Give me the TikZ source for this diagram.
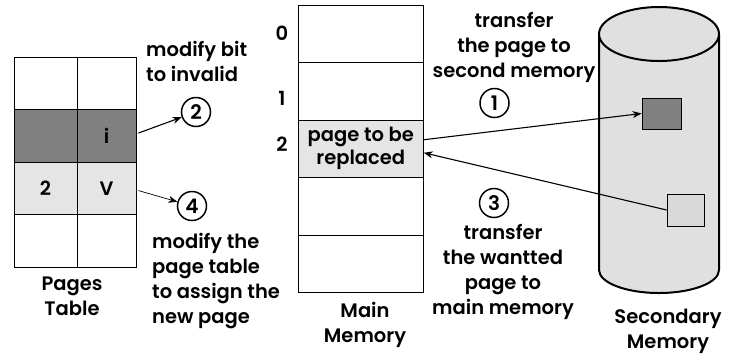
\documentclass[tikz,border=0pt]{standalone}
\usepackage{fontspec}
\setmainfont{Poppins}[BoldFont={Poppins SemiBold}]
\usetikzlibrary{arrows.meta}
\definecolor{darkcell}{HTML}{808080}
\definecolor{lightcell}{HTML}{E5E5E5}
\definecolor{cylfill}{HTML}{E0E0E0}
\definecolor{lightsq}{HTML}{D9D9D9}
\begin{document}
\begin{tikzpicture}[x=1pt,y=-1pt,
  every node/.style={font=\bfseries\fontsize{19.5}{25}\selectfont},
  txt/.style={inner sep=0pt},
  cellA/.style={draw, line width=0.8pt, minimum width=63pt, minimum height=52.5pt, inner sep=0pt},
  cellB/.style={draw, line width=0.8pt, minimum width=59pt, minimum height=52.5pt, inner sep=0pt},
  mcell/.style={draw, line width=0.8pt, minimum width=125pt, minimum height=57.5pt, inner sep=0pt, align=center, font=\bfseries\fontsize{19.5}{23}\selectfont},
  numc/.style={draw, circle, line width=1.5pt, minimum size=29pt, inner sep=0pt, font=\bfseries\fontsize{20}{20}\selectfont},
  arr/.style={line width=1.1pt, -{Stealth[length=9pt,width=7pt]}},
  sq/.style={draw, line width=0.8pt, inner sep=0pt}
]
\useasboundingbox (0,0) rectangle (736,360);

% Pages table
\node[cellA] (p11) at (45.5,83.55) {};
\node[cellB] (p12) at (106.5,83.55) {};
\node[cellA, fill=darkcell] (p21) at (45.5,136.05) {};
\node[cellB, fill=darkcell] (p22) at (106.5,136.05) {i};
\node[cellA, fill=lightcell] (p31) at (45.5,188.55) {2};
\node[cellB, fill=lightcell] (p32) at (106.5,188.55) {V};
\node[cellA] (p41) at (45.5,241.05) {};
\node[cellB] (p42) at (106.5,241.05) {};
\node[txt, align=center] (ptl) at (72,296) {Pages\\Table};

% Main memory
\node[mcell] (m0) at (360.8,33.75) {};
\node[mcell] (m1) at (360.8,91.25) {};
\node[mcell, fill=lightcell] (m2) at (360.8,148.75) {page to be\\replaced};
\node[mcell] (m3) at (360.8,206.25) {};
\node[mcell] (m4) at (360.8,263.75) {};
\node[txt] (n0) at (282,33) {0};
\node[txt] (n1) at (282,98) {1};
\node[txt] (n2) at (282,144) {2};
\node[txt, align=center] (mml) at (365,325) {Main\\Memory};

% Secondary memory cylinder
\draw[line width=2pt, fill=cylfill] (599,34) -- (599,270)
  arc[start angle=180, end angle=360, x radius=60pt, y radius=23pt]
  -- (719,34);
\draw[line width=2pt, fill=cylfill] (659,34) ellipse [x radius=60pt, y radius=27pt];
\node[sq, fill=darkcell, minimum width=39pt, minimum height=31pt] (s1) at (661.5,113.5) {};
\node[sq, fill=lightsq, minimum width=37pt, minimum height=32pt] (s2) at (685.5,210) {};
\node[txt, align=center] (sml) at (668,331) {Secondary\\Memory};

% Labels and circles
\node[txt, align=left, anchor=west] (t2) at (146,61) {modify bit\\to invalid};
\node[numc] (c2) at (196,112) {2};
\node[numc] (c4) at (192,206) {4};
\node[txt, align=left, anchor=west] (t4) at (152,281) {modify the\\page table\\to assign the\\new page};
\node[txt, align=center] (t1) at (514,47) {transfer\\the page to\\second memory};
\node[numc] (c1) at (494.5,103) {1};
\node[numc] (c3) at (494,203) {3};
\node[txt, align=center] (t3) at (503,272) {transfer\\the wantted\\page to\\main memory};

% Connectors
\draw[arr] ([xshift=2pt,yshift=3pt]p22.east) -- (c2);
\draw[line width=0.7pt, -{Stealth[length=9pt,width=7pt]}] ([xshift=2pt,yshift=-2pt]p32.east) -- (c4);
\draw[arr] ([yshift=9pt]m2.east) -- (s1.west);
\draw[arr] (s2.west) -- ([yshift=-4pt]m2.east);
\end{tikzpicture}
\end{document}
